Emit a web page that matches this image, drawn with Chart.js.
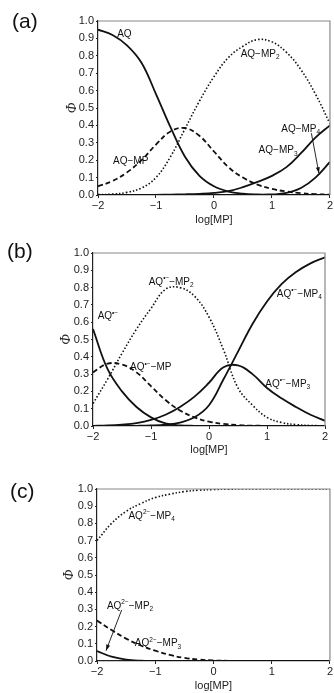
<!DOCTYPE html>
<html>
<head>
<meta charset="utf-8">
<script src="https://cdn.jsdelivr.net/npm/chart.js@4.4.1/dist/chart.umd.min.js"></script>
<style>
  body { margin: 0; background: #fff; width: 334px; height: 693px; overflow: hidden;
         font-family: "Liberation Sans", Arial, sans-serif; }
  .panel { position: absolute; left: 0; width: 334px; }
  .tag { position: absolute; font-size: 21px; line-height: 21px; color: #111; }
</style>
</head>
<body>
<div class="panel" style="top:0;height:230px"><canvas id="chartA"></canvas></div>
<div class="panel" style="top:230px;height:230px"><canvas id="chartB"></canvas></div>
<div class="panel" style="top:460px;height:233px"><canvas id="chartC"></canvas></div>
<div class="tag" style="left:12px;top:10px">(a)</div>
<div class="tag" style="left:7px;top:240px">(b)</div>
<div class="tag" style="left:10px;top:480px">(c)</div>
<script>
// log[MP] sample points
const logMP = [-2, -1.75, -1.5, -1.25, -1, -0.75, -0.5, -0.25, 0, 0.25, 0.5, 0.75, 1, 1.25, 1.5, 1.75, 2];
const xTicks = [-2, -1, 0, 1, 2];
const yTicks = [0, 0.1, 0.2, 0.3, 0.4, 0.5, 0.6, 0.7, 0.8, 0.9, 1.0];

// (a) neutral AQ
const a_AQ    = [0.95, 0.92, 0.86, 0.76, 0.58, 0.39, 0.22, 0.11, 0.05, 0.02, 0.008, 0.003, 0.001, 0, 0, 0, 0];
const a_MP1   = [0.05, 0.08, 0.13, 0.20, 0.29, 0.365, 0.385, 0.34, 0.25, 0.16, 0.10, 0.06, 0.035, 0.02, 0.01, 0.005, 0.002];
const a_MP2   = [0.002, 0.005, 0.015, 0.04, 0.10, 0.22, 0.38, 0.54, 0.68, 0.79, 0.855, 0.893, 0.88, 0.82, 0.72, 0.58, 0.41];
const a_MP3   = [0, 0, 0, 0, 0.001, 0.002, 0.004, 0.007, 0.012, 0.022, 0.045, 0.075, 0.11, 0.16, 0.24, 0.33, 0.40];
const a_MP4   = [0, 0, 0, 0, 0, 0, 0, 0, 0, 0, 0, 0.001, 0.003, 0.012, 0.04, 0.10, 0.19];

// (b) radical anion
const b_AQ    = [0.56, 0.33, 0.20, 0.11, 0.05, 0.015, 0.004, 0.001, 0, 0, 0, 0, 0, 0, 0, 0, 0];
const b_MP1   = [0.31, 0.36, 0.355, 0.31, 0.23, 0.15, 0.09, 0.05, 0.025, 0.012, 0.005, 0.002, 0.001, 0, 0, 0, 0];
const b_MP2   = [0.13, 0.27, 0.42, 0.56, 0.68, 0.79, 0.80, 0.75, 0.63, 0.44, 0.22, 0.12, 0.05, 0.02, 0.008, 0.003, 0.001];
const b_MP3   = [0.001, 0.003, 0.008, 0.017, 0.035, 0.065, 0.11, 0.17, 0.25, 0.34, 0.35, 0.30, 0.22, 0.16, 0.11, 0.065, 0.03];
const b_MP4   = [0, 0, 0, 0.001, 0.003, 0.008, 0.02, 0.05, 0.12, 0.27, 0.43, 0.59, 0.72, 0.82, 0.89, 0.94, 0.975];

// (c) dianion
const c_MP2   = [0.058, 0.025, 0.008, 0.002, 0.0005, 0, 0, 0, 0, 0, 0, 0, 0, 0, 0, 0, 0];
const c_MP3   = [0.235, 0.18, 0.13, 0.09, 0.06, 0.035, 0.018, 0.008, 0.003, 0.001, 0, 0, 0, 0, 0, 0, 0];
const c_MP4   = [0.70, 0.80, 0.87, 0.915, 0.95, 0.97, 0.985, 0.993, 0.997, 0.999, 1, 1, 1, 1, 1, 1, 1];

const INK = '#111';
const FONT = '"Liberation Sans", Arial, sans-serif';
const styles = {
  solid:  { borderWidth: 1.8, borderDash: [] },
  dashed: { borderWidth: 1.8, borderDash: [5, 3] },
  dotted: { borderWidth: 1.6, borderDash: [1.5, 2] }
};

function series(values, style) {
  return Object.assign({
    data: logMP.map((x, i) => ({ x: x, y: values[i] })),
    borderColor: INK,
    pointRadius: 0,
    tension: 0.4,
    fill: false
  }, styles[style]);
}

// text with sub/superscripts, x = left, y = baseline
function drawRich(ctx, parts, x, y) {
  let cx = x;
  parts.forEach(p => {
    let size = 10, dy = 0;
    if (p.sub) { size = 6.5; dy = 2.5; }
    if (p.sup) { size = 6.5; dy = -4.5; }
    ctx.font = size + 'px ' + FONT;
    ctx.fillText(p.t, cx, y + dy);
    cx += ctx.measureText(p.t).width;
  });
}

const notes = {
  id: 'notes',
  afterDatasetsDraw(chart, args, opts) {
    const { ctx, chartArea: area, scales: { x, y } } = chart;
    ctx.save();
    // frame
    ctx.strokeStyle = '#888';
    ctx.lineWidth = 1.2;
    ctx.beginPath();
    ctx.moveTo(area.left, area.top);
    ctx.lineTo(area.right, area.top);
    ctx.lineTo(area.right, area.bottom);
    ctx.stroke();

    ctx.fillStyle = INK;
    ctx.textBaseline = 'alphabetic';
    ctx.textAlign = 'left';
    (opts.labels || []).forEach(l => {
      drawRich(ctx, l.parts, x.getPixelForValue(l.x), y.getPixelForValue(l.y) + 3.6);
    });

    ctx.strokeStyle = INK;
    ctx.lineWidth = 0.9;
    (opts.arrows || []).forEach(a => {
      const x1 = x.getPixelForValue(a.from[0]), y1 = y.getPixelForValue(a.from[1]);
      const x2 = x.getPixelForValue(a.to[0]), y2 = y.getPixelForValue(a.to[1]);
      ctx.beginPath();
      ctx.moveTo(x1, y1);
      ctx.lineTo(x2, y2);
      ctx.stroke();
      const ang = Math.atan2(y2 - y1, x2 - x1);
      ctx.beginPath();
      ctx.moveTo(x2, y2);
      ctx.lineTo(x2 - 6 * Math.cos(ang) + 2 * Math.sin(ang), y2 - 6 * Math.sin(ang) - 2 * Math.cos(ang));
      ctx.lineTo(x2 - 6 * Math.cos(ang) - 2 * Math.sin(ang), y2 - 6 * Math.sin(ang) + 2 * Math.cos(ang));
      ctx.closePath();
      ctx.fill();
    });
    ctx.restore();
  }
};

function makeChart(id, datasets, box, labels, arrows) {
  return new Chart(document.getElementById(id), {
    type: 'line',
    data: { datasets: datasets },
    options: {
      responsive: true,
      maintainAspectRatio: false,
      animation: false,
      layout: { padding: { left: 0, top: box.top, right: box.right, bottom: 0 } },
      plugins: {
        legend: { display: false },
        tooltip: { enabled: false },
        notes: { labels: labels, arrows: arrows || [] }
      },
      scales: {
        x: {
          type: 'linear', min: -2, max: 2,
          afterBuildTicks: s => { s.ticks = xTicks.map(v => ({ value: v })); },
          afterFit: s => { s.height = box.xh; },
          ticks: {
            color: '#222', font: { size: 11, family: FONT }, padding: 1, maxRotation: 0,
            callback: v => v < 0 ? '\u2212' + Math.abs(v) : String(v)
          },
          grid: { drawOnChartArea: false, tickLength: 3, color: '#222' },
          border: { color: '#222', width: 1.2 },
          title: { display: true, text: 'log[MP]', color: '#222',
                   font: { size: 11, family: FONT }, padding: { top: 0, bottom: box.tb } }
        },
        y: {
          min: 0, max: 1,
          afterBuildTicks: s => { s.ticks = yTicks.map(v => ({ value: v })); },
          afterFit: s => { s.width = box.left; },
          ticks: {
            color: '#222', font: { size: 11, family: FONT }, padding: 2, autoSkip: false,
            callback: v => v.toFixed(1)
          },
          grid: { drawOnChartArea: false, tickLength: 2, color: '#222' },
          border: { color: '#222', width: 1.2 },
          title: { display: true, text: '\u03A6', color: '#222',
                   font: { size: 14, style: 'italic', family: '"Liberation Serif", serif' },
                   padding: { top: box.phi - 8.4, bottom: 0 } }
        }
      }
    },
    plugins: [notes]
  });
}

function rich(main, sup, rest, sub) {
  const parts = [{ t: main }];
  if (sup) parts.push({ t: sup, sup: true });
  if (rest) parts.push({ t: rest });
  if (sub) parts.push({ t: sub, sub: true });
  return parts;
}

makeChart('chartA', [
  series(a_AQ, 'solid'),
  series(a_MP1, 'dashed'),
  series(a_MP2, 'dotted'),
  series(a_MP3, 'solid'),
  series(a_MP4, 'solid')
], { top: 21, right: 2, left: 98, xh: 35, tb: 3.4, phi: 72.5 }, [
  { x: -1.67, y: 0.93, parts: rich('AQ') },
  { x: 0.46, y: 0.815, parts: rich('AQ\u2212MP', null, null, '2') },
  { x: -1.74, y: 0.20, parts: rich('AQ\u2212MP') },
  { x: 1.16, y: 0.385, parts: rich('AQ\u2212MP', null, null, '4') },
  { x: 0.77, y: 0.26, parts: rich('AQ\u2212MP', null, null, '3') }
], [{ from: [1.68, 0.355], to: [1.81, 0.125] }]);

makeChart('chartB', [
  series(b_AQ, 'solid'),
  series(b_MP1, 'dashed'),
  series(b_MP2, 'dotted'),
  series(b_MP3, 'solid'),
  series(b_MP4, 'solid')
], { top: 23, right: 9, left: 93, xh: 34, tb: 3.4, phi: 66.5 }, [
  { x: -1.92, y: 0.637, parts: rich('AQ', '\u2022\u2212') },
  { x: -1.04, y: 0.836, parts: rich('AQ', '\u2022\u2212', '\u2212MP', '2') },
  { x: -1.36, y: 0.343, parts: rich('AQ', '\u2022\u2212', '\u2212MP') },
  { x: 1.17, y: 0.768, parts: rich('AQ', '\u2022\u2212', '\u2212MP', '4') },
  { x: 0.97, y: 0.247, parts: rich('AQ', '\u2022\u2212', '\u2212MP', '3') }
]);

makeChart('chartC', [
  series(c_MP4, 'dotted'),
  series(c_MP3, 'dashed'),
  series(c_MP2, 'solid')
], { top: 29, right: 4, left: 97, xh: 32, tb: 0, phi: 69 }, [
  { x: -1.46, y: 0.849, parts: rich('AQ', '2\u2212', '\u2212MP', '4') },
  { x: -1.83, y: 0.326, parts: rich('AQ', '2\u2212', '\u2212MP', '2') },
  { x: -1.35, y: 0.106, parts: rich('AQ', '2\u2212', '\u2212MP', '3') }
], [{ from: [-1.576, 0.297], to: [-1.845, 0.06] }]);
</script>
</body>
</html>
